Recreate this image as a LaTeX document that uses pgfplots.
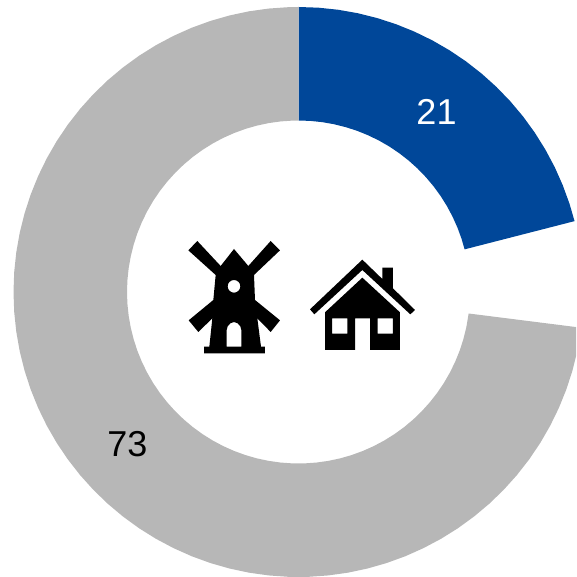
\documentclass[border=0pt]{standalone}
\usepackage{pgfplots}
\pgfplotsset{compat=1.18}
\usepackage{fontspec}
\setmainfont{Liberation Sans}
\definecolor{dblue}{RGB}{0,71,153}
\definecolor{dgray}{RGB}{183,183,183}
\begin{document}
\begin{tikzpicture}[x=1pt,y=1pt]
\useasboundingbox (0,0) rectangle (576,577);
\begin{axis}[at={(0,0)},anchor=south west,scale only axis,width=576pt,height=577pt,
  xmin=-298.5,xmax=277.5,ymin=-285,ymax=292,hide axis,clip=true]
% share 21 of 100: 90 deg to 14.4 deg
\addplot[draw=none,fill=dblue,mark=none,data cs=polar] coordinates {
(90,285)(86,285)(82,285)(78,285)(74,285)(70,285)(66,285)(62,285)(58,285)(54,285)(50,285)(46,285)(42,285)(38,285)(34,285)(30,285)(26,285)(22,285)(18,285)(14.4,285)
(14.4,171.5)(18,171.5)(22,171.5)(26,171.5)(30,171.5)(34,171.5)(38,171.5)(42,171.5)(46,171.5)(50,171.5)(54,171.5)(58,171.5)(62,171.5)(66,171.5)(70,171.5)(74,171.5)(78,171.5)(82,171.5)(86,171.5)(90,171.5)
} --cycle;
% share 73 of 100: -7.2 deg to -270 deg
\addplot[draw=none,fill=dgray,mark=none,data cs=polar] coordinates {
(-7.2,285)(-12,285)(-16,285)(-20,285)(-24,285)(-28,285)(-32,285)(-36,285)(-40,285)(-44,285)(-48,285)(-52,285)(-56,285)(-60,285)(-64,285)(-68,285)(-72,285)(-76,285)(-80,285)(-84,285)(-88,285)(-92,285)(-96,285)(-100,285)(-104,285)(-108,285)(-112,285)(-116,285)(-120,285)(-124,285)(-128,285)(-132,285)(-136,285)(-140,285)(-144,285)(-148,285)(-152,285)(-156,285)(-160,285)(-164,285)(-168,285)(-172,285)(-176,285)(-180,285)(-184,285)(-188,285)(-192,285)(-196,285)(-200,285)(-204,285)(-208,285)(-212,285)(-216,285)(-220,285)(-224,285)(-228,285)(-232,285)(-236,285)(-240,285)(-244,285)(-248,285)(-252,285)(-256,285)(-260,285)(-264,285)(-268,285)(-270,285)
(-270,171.5)(-268,171.5)(-264,171.5)(-260,171.5)(-256,171.5)(-252,171.5)(-248,171.5)(-244,171.5)(-240,171.5)(-236,171.5)(-232,171.5)(-228,171.5)(-224,171.5)(-220,171.5)(-216,171.5)(-212,171.5)(-208,171.5)(-204,171.5)(-200,171.5)(-196,171.5)(-192,171.5)(-188,171.5)(-184,171.5)(-180,171.5)(-176,171.5)(-172,171.5)(-168,171.5)(-164,171.5)(-160,171.5)(-156,171.5)(-152,171.5)(-148,171.5)(-144,171.5)(-140,171.5)(-136,171.5)(-132,171.5)(-128,171.5)(-124,171.5)(-120,171.5)(-116,171.5)(-112,171.5)(-108,171.5)(-104,171.5)(-100,171.5)(-96,171.5)(-92,171.5)(-88,171.5)(-84,171.5)(-80,171.5)(-76,171.5)(-72,171.5)(-68,171.5)(-64,171.5)(-60,171.5)(-56,171.5)(-52,171.5)(-48,171.5)(-44,171.5)(-40,171.5)(-36,171.5)(-32,171.5)(-28,171.5)(-24,171.5)(-20,171.5)(-16,171.5)(-12,171.5)(-7.2,171.5)
} --cycle;
\node[text=white,inner sep=0pt,font=\fontsize{36}{38}\selectfont] at (axis cs:138,180) {21};
\node[text=black,inner sep=0pt,font=\fontsize{36}{38}\selectfont] at (axis cs:-171,-152) {73};
\end{axis}
% windmill (coordinates in thirds of a pixel from the icon corner)
\begin{scope}[shift={(180,342)},x=0.3333pt,y=-0.3333pt]
\fill[black,even odd rule]
 (25,46)--(52,18)--(122,93)--(162,42)--(205,93)--(272,18)--(300,46)--(222,120)--(225,195)--(300,256)--(272,291)--(232,250)--(243,335)--(255,335)--(255,355)--(72,355)--(72,335)--(88,335)--(97,250)--(55,291)--(26,256)--(100,195)--(107,120)--cycle
 (162,154) circle[radius=19]
 (140,335)--(140,285)--(143,274)--(151,265)--(162,261)--(173,265)--(181,274)--(184,285)--(184,335)--cycle;
\end{scope}
% house
\begin{scope}[shift={(305,322)},x=0.3333pt,y=-0.3333pt]
\fill[black] (172,14)--(232,72)--(232,38)--(264,38)--(264,100)--(330,165)--(316,178)--(172,45)--(28,178)--(15,163)--cycle;
\fill[black,even odd rule] (172,68)--(285,172)--(285,285)--(195,285)--(195,190)--(150,190)--(150,285)--(60,285)--(60,172)--cycle
 (81,190) rectangle (127,236) (218,190) rectangle (264,236);
\end{scope}
\end{tikzpicture}
\end{document}
